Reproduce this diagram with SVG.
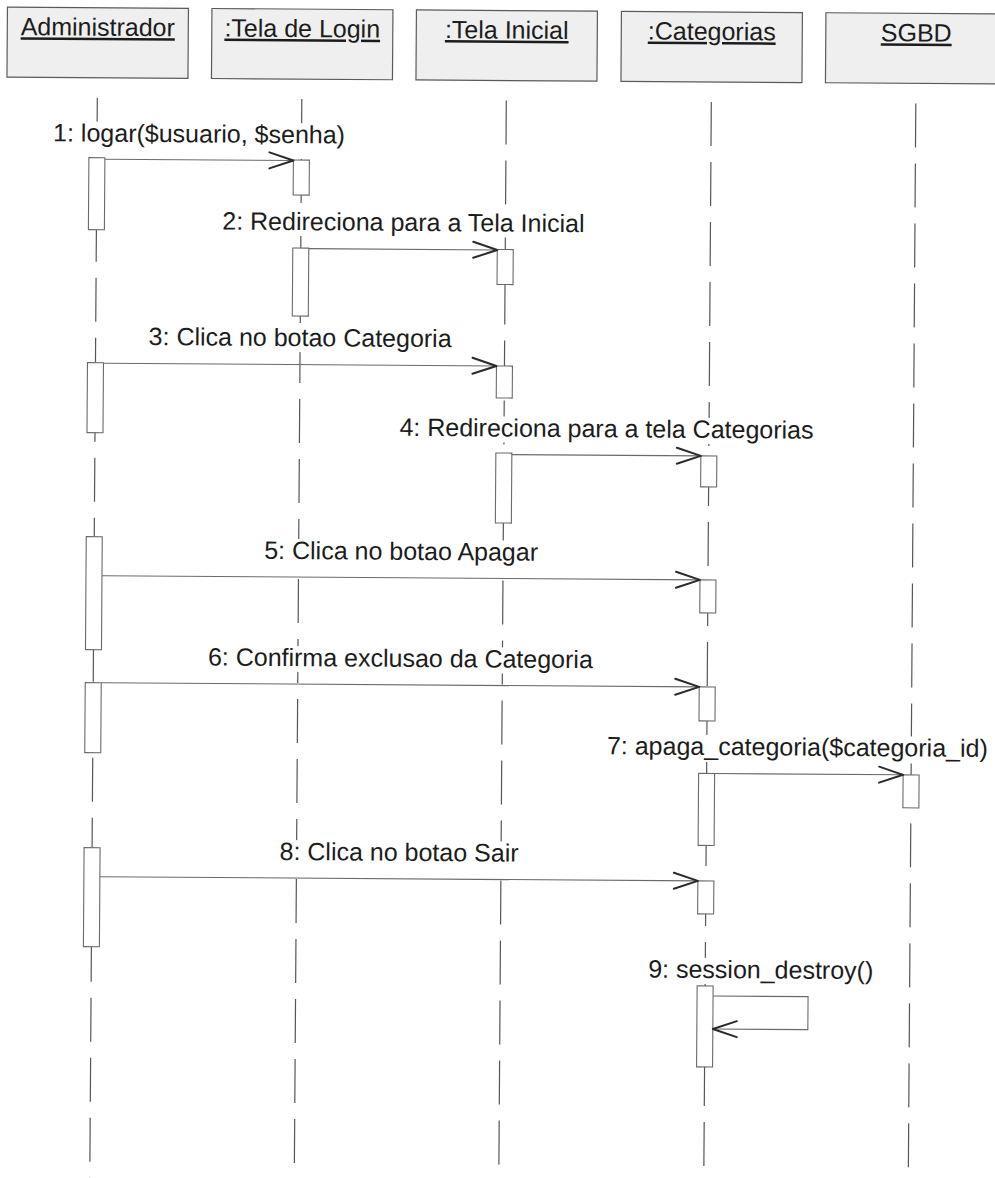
<svg xmlns="http://www.w3.org/2000/svg" width="995" height="1178" viewBox="0 0 995 1178">
<style>
  .hdr{fill:#efefef;stroke:#5a5a5a;stroke-width:1.2}
  .ttl{font-family:"Liberation Sans",Arial,sans-serif;font-size:25px;fill:#1c1c1c;text-anchor:middle;text-decoration:underline}
  .life{stroke:#555;stroke-width:1.2;stroke-dasharray:44 16;fill:none}
  .act{fill:#ffffff;stroke:#6a6a6a;stroke-width:1.1}
  .msg{stroke:#6a6a6a;stroke-width:1.1;fill:none}
  .head{stroke:#2a2a2a;stroke-width:2;fill:none;stroke-linecap:round;stroke-linejoin:round}
  .lbl{font-family:"Liberation Sans",Arial,sans-serif;font-size:25px;fill:#1c1c1c;text-anchor:middle}
  .bg{fill:#ffffff;stroke:none}
</style>
<rect width="995" height="1178" fill="#ffffff"/>
<g transform="rotate(0.4)">
  <g id="administrador">
    <rect class="hdr" x="7.5" y="7" width="181" height="70"/>
    <text class="ttl" x="98" y="35">Administrador</text>
    <line class="life" x1="98" y1="97" x2="98" y2="1190"/>
  </g>
  <g id="tela-login">
    <rect class="hdr" x="212" y="7" width="181" height="70"/>
    <text class="ttl" x="302.5" y="35">:Tela de Login</text>
    <line class="life" x1="302.5" y1="97" x2="302.5" y2="1190"/>
  </g>
  <g id="tela-inicial">
    <rect class="hdr" x="416.5" y="7" width="181" height="70"/>
    <text class="ttl" x="507" y="35">:Tela Inicial</text>
    <line class="life" x1="507" y1="97" x2="507" y2="1190"/>
  </g>
  <g id="categorias">
    <rect class="hdr" x="621.5" y="7" width="181" height="70"/>
    <text class="ttl" x="712" y="35">:Categorias</text>
    <line class="life" x1="712" y1="97" x2="712" y2="1190"/>
  </g>
  <g id="sgbd">
    <rect class="hdr" x="826" y="7" width="181" height="70"/>
    <text class="ttl" x="916.5" y="35">SGBD</text>
    <line class="life" x1="916.5" y1="97" x2="916.5" y2="1190"/>
  </g>

  <g id="labels">
    <rect class="bg" x="52" y="121" width="296" height="26"/>
    <text class="lbl" x="200" y="141">1: logar($usuario, $senha)</text>
    <rect class="bg" x="220" y="208" width="370" height="26"/>
    <text class="lbl" x="405" y="228">2: Redireciona para a Tela Inicial</text>
    <rect class="bg" x="149" y="324" width="307" height="26"/>
    <text class="lbl" x="302.5" y="344">3: Clica no botao Categoria</text>
    <rect class="bg" x="401" y="413" width="417" height="26"/>
    <text class="lbl" x="609.5" y="433">4: Redireciona para a tela Categorias</text>
    <rect class="bg" x="265" y="537" width="280" height="26"/>
    <text class="lbl" x="405" y="557">5: Clica no botao Apagar</text>
    <rect class="bg" x="212" y="644" width="386" height="26"/>
    <text class="lbl" x="405" y="664">6: Confirma exclusao da Categoria</text>
    <rect class="bg" x="608" y="730" width="388" height="26"/>
    <text class="lbl" x="993" y="750" style="text-anchor:end">7: apaga_categoria($categoria_id)</text>
    <rect class="bg" x="283" y="838" width="244" height="26"/>
    <text class="lbl" x="405" y="858">8: Clica no botao Sair</text>
    <rect class="bg" x="652" y="953" width="231" height="26"/>
    <text class="lbl" x="767.5" y="973">9: session_destroy()</text>
  </g>

  <g id="activations">
    <rect class="act" x="90" y="157" width="16" height="72"/>
    <rect class="act" x="90" y="362" width="16" height="70"/>
    <rect class="act" x="90" y="536" width="16" height="113"/>
    <rect class="act" x="90" y="682" width="16" height="70"/>
    <rect class="act" x="90" y="847" width="16" height="99"/>
    <rect class="act" x="294.5" y="158" width="16" height="35"/>
    <rect class="act" x="294.5" y="246" width="16" height="68"/>
    <rect class="act" x="499" y="246" width="16" height="35"/>
    <rect class="act" x="499" y="362.5" width="16" height="32"/>
    <rect class="act" x="499" y="449.5" width="16" height="70"/>
    <rect class="act" x="704" y="451" width="16" height="31"/>
    <rect class="act" x="704" y="575" width="16" height="33"/>
    <rect class="act" x="704" y="682" width="16" height="34"/>
    <rect class="act" x="704" y="768.5" width="16" height="72"/>
    <rect class="act" x="704" y="876" width="16" height="33"/>
    <rect class="act" x="704" y="981" width="16" height="81"/>
    <rect class="act" x="908.5" y="768.5" width="16" height="33"/>
  </g>

  <g id="connectors">
    <line class="msg" x1="106" y1="158.5" x2="294.5" y2="158.5"/>
    <path class="head" d="M270.5,150.5 L294.5,158.5 L270.5,166.5"/>
    <line class="msg" x1="310.5" y1="246.5" x2="499" y2="246.5"/>
    <path class="head" d="M475,238.5 L499,246.5 L475,254.5"/>
    <line class="msg" x1="106" y1="362.5" x2="499" y2="362.5"/>
    <path class="head" d="M475,354.5 L499,362.5 L475,370.5"/>
    <line class="msg" x1="515" y1="451" x2="704" y2="451"/>
    <path class="head" d="M680,443 L704,451 L680,459"/>
    <line class="msg" x1="106" y1="575" x2="704" y2="575"/>
    <path class="head" d="M680,567 L704,575 L680,583"/>
    <line class="msg" x1="106" y1="682" x2="704" y2="682"/>
    <path class="head" d="M680,674 L704,682 L680,690"/>
    <line class="msg" x1="720" y1="768.5" x2="908.5" y2="768.5"/>
    <path class="head" d="M884.5,760.5 L908.5,768.5 L884.5,776.5"/>
    <line class="msg" x1="106" y1="876" x2="704" y2="876"/>
    <path class="head" d="M680,868 L704,876 L680,884"/>
    <polyline class="msg" points="720,991 815,991 815,1024 720,1024"/>
    <path class="head" d="M744,1016 L720,1024 L744,1032"/>
  </g>
</g>
</svg>
